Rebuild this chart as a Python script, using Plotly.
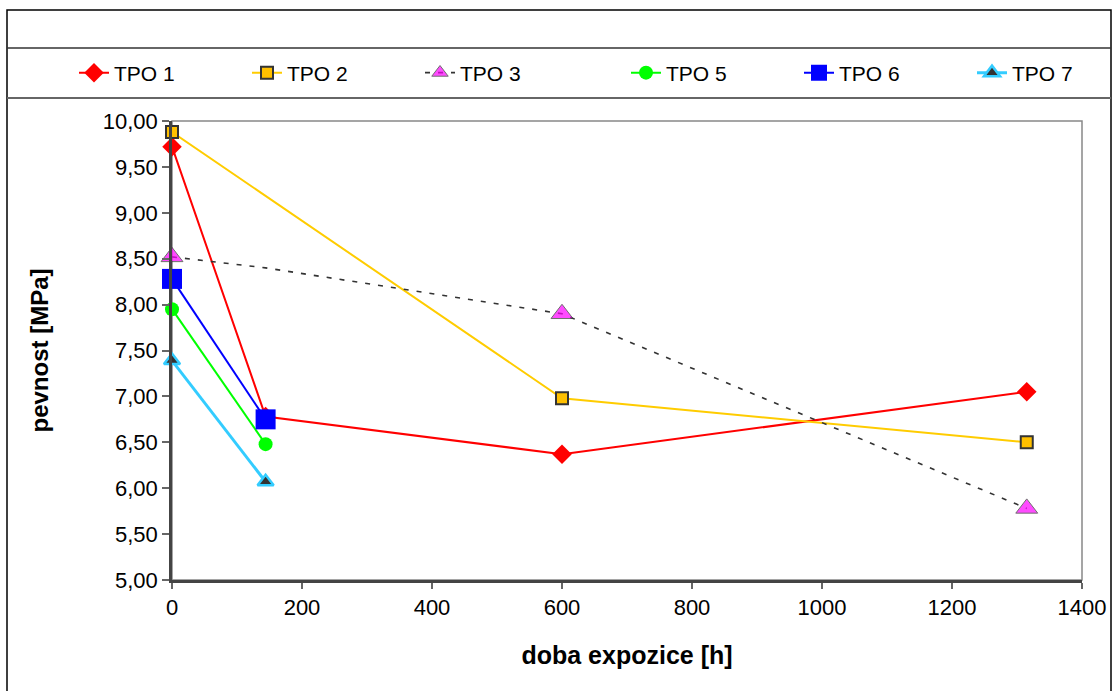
import plotly.graph_objects as go

# ---- data ----
x_tpo1 = [0, 144, 600, 1315]
y_tpo1 = [9.72, 6.78, 6.37, 7.05]
x_tpo2 = [0, 600, 1315]
y_tpo2 = [9.88, 6.98, 6.50]
x_tpo3 = [0, 144, 600, 1315]
y_tpo3 = [8.52, 8.40, 7.90, 5.78]
tpo3_marker_visible = [1, 0, 1, 1]
x_tpo5 = [0, 144]
y_tpo5 = [7.95, 6.48]
x_tpo6 = [0, 144]
y_tpo6 = [8.28, 6.75]
x_tpo7 = [0, 144]
y_tpo7 = [7.39, 6.07]

x_ticks = [0, 200, 400, 600, 800, 1000, 1200, 1400]
y_ticks = [5.0, 5.5, 6.0, 6.5, 7.0, 7.5, 8.0, 8.5, 9.0, 9.5, 10.0]

W, H = 1114, 691
L, R, T, B = 172, 32, 121, 111
pw, ph = W - L - R, H - T - B

def px_x(p):
    return (p - L) / pw

def px_y(p):
    return (H - B - p) / ph

fig = go.Figure()

fig.add_trace(go.Scatter(x=x_tpo1, y=y_tpo1, name="TPO 1", mode="lines+markers", cliponaxis=False,
                         legend="legend",
                         line=dict(color="#FF0000", width=2),
                         marker=dict(symbol="diamond", size=15, color="#FF0000")))
fig.add_trace(go.Scatter(x=x_tpo2, y=y_tpo2, name="TPO 2", mode="lines+markers", cliponaxis=False,
                         legend="legend",
                         line=dict(color="#FFCC00", width=2),
                         marker=dict(symbol="square", size=12, color="#FFC000",
                                     line=dict(color="#333333", width=2))))
fig.add_trace(go.Scatter(x=x_tpo3, y=y_tpo3, name="TPO 3", mode="lines+markers", cliponaxis=False,
                         legend="legend",
                         line=dict(color="#333333", width=1.6, dash="5px,8px"),
                         marker=dict(symbol="triangle-up",
                                     size=[19 * v for v in tpo3_marker_visible],
                                     color="#FF00FF")))
fig.add_trace(go.Scatter(x=x_tpo5, y=y_tpo5, name="TPO 5", mode="lines+markers", cliponaxis=False,
                         legend="legend2",
                         line=dict(color="#00FF00", width=2),
                         marker=dict(symbol="circle", size=14, color="#00FF00")))
fig.add_trace(go.Scatter(x=x_tpo6, y=y_tpo6, name="TPO 6", mode="lines+markers", cliponaxis=False,
                         legend="legend2",
                         line=dict(color="#0000FF", width=2),
                         marker=dict(symbol="square", size=20, color="#0000FF")))
fig.add_trace(go.Scatter(x=x_tpo7, y=y_tpo7, name="TPO 7", mode="lines+markers", cliponaxis=False,
                         legend="legend2",
                         line=dict(color="#33CCFF", width=3),
                         marker=dict(symbol="triangle-up", size=14, color="#333333",
                                     line=dict(color="#33CCFF", width=2.5))))

shapes = [
    # outer frame
    dict(type="rect", xref="paper", yref="paper",
         x0=px_x(7), x1=px_x(1111), y0=px_y(700), y1=px_y(10),
         line=dict(color="#000000", width=1.5), fillcolor="rgba(0,0,0,0)", layer="below"),
    # legend band lines
    dict(type="line", xref="paper", yref="paper",
         x0=px_x(7), x1=px_x(1111), y0=px_y(48), y1=px_y(48),
         line=dict(color="#333333", width=1.5)),
    dict(type="line", xref="paper", yref="paper",
         x0=px_x(7), x1=px_x(1111), y0=px_y(98), y1=px_y(98),
         line=dict(color="#666666", width=2)),
    # plot area frame
    dict(type="rect", xref="paper", yref="paper", x0=0, x1=1, y0=0, y1=1,
         line=dict(color="#888888", width=1.5), fillcolor="rgba(0,0,0,0)", layer="below"),
]

legend_common = dict(orientation="h", xanchor="left", y=px_y(73), yanchor="middle",
                     entrywidth=128, entrywidthmode="pixels", itemwidth=30,
                     font=dict(size=21, color="#000000"), bgcolor="rgba(0,0,0,0)",
                     tracegroupgap=0)

fig.update_layout(
    width=W, height=H,
    margin=dict(l=L, r=R, t=T, b=B, autoexpand=False),
    paper_bgcolor="white", plot_bgcolor="white",
    separators=",.",
    font=dict(family="Liberation Sans, Arial, sans-serif", color="#000000"),
    shapes=shapes,
    showlegend=True,
    legend=dict(x=px_x(74), **legend_common),
    legend2=dict(x=px_x(626), **legend_common),
    xaxis=dict(range=[0, 1400], tickvals=x_ticks, ticks="outside", ticklen=6,
               tickcolor="#666666", tickwidth=1.5,
               showline=True, linecolor="#444444", linewidth=2.5,
               showgrid=False, zeroline=False,
               tickfont=dict(size=22),
               title=dict(text="<b>doba expozice [h]</b>", font=dict(size=25), standoff=28)),
    yaxis=dict(range=[5, 10], tickvals=y_ticks, tickformat=".2f", ticks="outside", ticklen=7,
               tickcolor="#666666", tickwidth=1.5,
               showline=True, linecolor="#444444", linewidth=2.5,
               showgrid=False, zeroline=False,
               tickfont=dict(size=22),
               title=dict(text="<b>pevnost [MPa]</b>", font=dict(size=24), standoff=48)),
)

fig.write_html("out.html")
